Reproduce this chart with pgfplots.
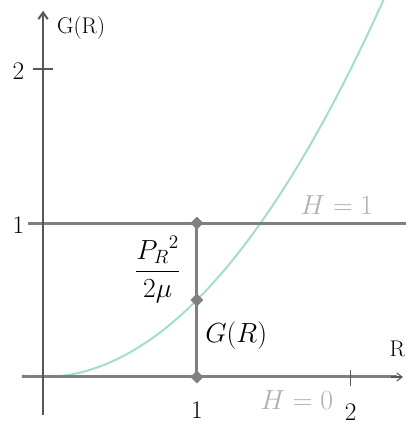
\documentclass[border=0pt]{standalone}
\usepackage{pgfplots}
\usepackage{amsmath}
\pgfplotsset{compat=1.18}
\usetikzlibrary{arrows.meta}
\definecolor{axisgray}{HTML}{575757}
\definecolor{linegray}{HTML}{808080}
\definecolor{labelgray}{HTML}{B0B0B0}
\definecolor{curveteal}{HTML}{A3DCD0}
\begin{document}
\begin{tikzpicture}
\begin{axis}[name=ax, scale only axis, width=304.5pt, height=320.25pt,
  xmin=-0.28, xmax=2.36, ymin=-0.325, ymax=2.45, hide axis, clip=false]
% G(R) curve
\addplot[curveteal, line width=1.5pt, smooth] coordinates {
  (-0.14,0.0098) (0,0) (0.1,0.005) (0.2,0.02) (0.3,0.045) (0.4,0.08)
  (0.5,0.125) (0.6,0.18) (0.7,0.245) (0.8,0.32) (0.9,0.405) (1.0,0.5)
  (1.1,0.605) (1.2,0.72) (1.3,0.845) (1.4,0.98) (1.5,1.125) (1.6,1.28)
  (1.7,1.445) (1.8,1.62) (1.9,1.805) (2.0,2.0) (2.1,2.205) (2.2,2.42) (2.213,2.45)};
% level H = 1
\addplot[linegray, line width=2.25pt] coordinates {(-0.1,1) (2.36,1)};
% x axis
\draw[linegray, line width=2.25pt] (axis cs:-0.14,0) -- (axis cs:2.3,0);
\draw[axisgray, line width=0.8pt, -{Straight Barb[length=4pt,width=6pt]}] (axis cs:2.26,0) -- (axis cs:2.34,0);
% segment at R = 1
\addplot[linegray, line width=2.25pt] coordinates {(1,0) (1,1)};
% y axis
\draw[axisgray, line width=1.5pt, -{Straight Barb[length=5pt,width=7pt]}] (axis cs:0,-0.25) -- (axis cs:0,2.38);
% ticks
\draw[axisgray, line width=1.2pt] (axis cs:-0.065,2) -- (axis cs:0.065,2);
\draw[axisgray, line width=1.2pt] (axis cs:2,-0.06) -- (axis cs:2,0.045);
% points
\addplot[only marks, mark=square*, mark size=3.2pt, mark options={rotate=45, fill=linegray, draw=linegray}] coordinates {(1,1) (1,0.5) (1,0)};
% labels
\tikzset{tick lbl/.style={font=\fontsize{19}{21}\selectfont, inner sep=0pt}}
\node[tick lbl] at (axis cs:-0.16,1.99) {2};
\node[tick lbl] at (axis cs:-0.16,0.99) {1};
\node[tick lbl] at (axis cs:1,-0.215) {1};
\node[tick lbl] at (axis cs:2,-0.23) {2};
\node[font=\fontsize{17}{19}\selectfont, anchor=west, inner sep=0pt] at (axis cs:0.09,2.27) {G(R)};
\node[font=\fontsize{17}{19}\selectfont, anchor=east, inner sep=0pt] at (axis cs:2.355,0.18) {R};
\node[font=\fontsize{21}{23}\selectfont, text=labelgray] at (axis cs:1.91,1.12) {$H=1$};
\node[font=\fontsize{21}{23}\selectfont, text=labelgray] at (axis cs:1.65,-0.15) {$H=0$};
\node[font=\fontsize{21}{23}\selectfont] at (axis cs:0.745,0.70) {$\dfrac{{P_R}^{2}}{2\mu}$};
\node[font=\fontsize{21}{23}\selectfont] at (axis cs:1.256,0.27) {$G(R)$};
\end{axis}
\pgfresetboundingbox
\path (ax.south west) rectangle (ax.north east);
\end{tikzpicture}
\end{document}
